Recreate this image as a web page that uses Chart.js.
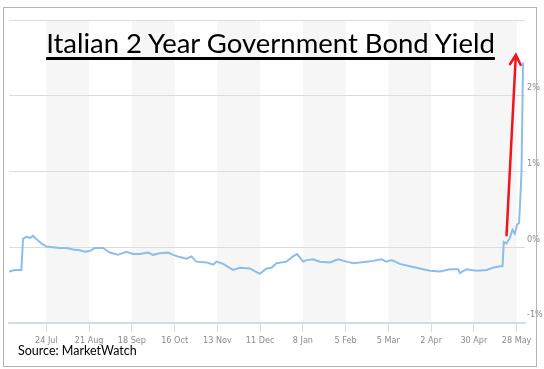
<!DOCTYPE html>
<html>
<head>
<meta charset="utf-8">
<script src="https://cdn.jsdelivr.net/npm/chart.js@4/dist/chart.umd.min.js"></script>
<style>
  html, body { margin: 0; padding: 0; background: #fff; }
  #wrap { position: relative; width: 544px; height: 369px; }
  #frame { position: absolute; left: 3px; top: 7px; width: 532px; height: 358px; border: 1.5px solid #b4b4b4; pointer-events: none; }
  #title { position: absolute; left: 0; width: 541px; top: 26px; text-align: center; font-family: Lato, sans-serif; font-size: 27.5px; color: #000; text-decoration: underline; text-decoration-thickness: 3px; text-underline-offset: 4px; white-space: nowrap; }
  #source { position: absolute; left: 18px; top: 343px; font-family: Lato, sans-serif; font-size: 12.5px; color: #000; }
</style>
</head>
<body>
<div id="wrap">
  <canvas id="bondChart" width="544" height="369"></canvas>
  <div id="title">Italian 2 Year Government Bond Yield</div>
  <div id="source">Source: MarketWatch</div>
  <div id="frame"></div>
</div>
<script>
// days counted from 28 Jun 2017
var days = [1.5, 5.2, 9.6, 10.7, 13.1, 15.1, 17.2, 19.4, 22.7, 26, 30.1, 34.7, 39.1, 43.4, 47.8, 51.1, 54.4, 57.7,
    63.1, 65.3, 67.5, 72.9, 78.4, 82.7, 87.1, 92.6, 95.9, 100.2, 105.7, 109, 113.4, 117.7, 121, 124.3, 130.8,
    135.2, 137.4, 141.7, 148.3, 152.7, 159.2, 165.8, 170.2, 173.4, 176.7, 183.3, 187.6, 190.2, 194.2, 196.4,
    200.7, 205.1, 211.7, 217.1, 222.6, 226.9, 235.7, 240, 245.5, 248.8, 252.1, 257.5, 264.1, 270.6, 277.2,
    283.7, 290.3, 295.7, 296.8, 301.2, 307.7, 314.3, 318.6, 323, 324.8, 325.6, 327.4, 329.5, 331.3, 332.8,
    334.3, 335.6, 336.5, 337.2, 337.7, 338.2];
var yields = [-0.32, -0.30, -0.30, 0.11, 0.14, 0.12, 0.15, 0.11, 0.05, 0.01, 0.00, -0.01, -0.01, -0.03, -0.04, -0.06, -0.05, -0.01,
    -0.01, -0.04, -0.07, -0.10, -0.06, -0.09, -0.09, -0.07, -0.10, -0.08, -0.07, -0.10, -0.13, -0.15, -0.12, -0.19, -0.20,
    -0.23, -0.19, -0.22, -0.30, -0.27, -0.28, -0.35, -0.28, -0.27, -0.21, -0.19, -0.12, -0.09, -0.19, -0.17,
    -0.16, -0.19, -0.20, -0.16, -0.19, -0.21, -0.19, -0.18, -0.16, -0.19, -0.17, -0.22, -0.25, -0.28, -0.31,
    -0.32, -0.29, -0.29, -0.34, -0.29, -0.31, -0.30, -0.27, -0.25, -0.25, 0.07, 0.05, 0.12, 0.23, 0.18,
    0.30, 0.32, 0.67, 1.00, 1.70, 2.44];

var tickDays = [26, 54, 82, 110, 138, 166, 194, 222, 250, 278, 306, 334];
var tickLabels = ['24 Jul', '21 Aug', '18 Sep', '16 Oct', '13 Nov', '11 Dec', '8 Jan', '5 Feb', '5 Mar', '2 Apr', '30 Apr', '28 May'];

// red arrow annotation: [day, yield] start and tip
var arrowFrom = [327.4, 0.16];
var arrowTo = [333.5, 2.54];

var bands = {
    id: 'bands',
    beforeDraw: function (chart) {
        var ctx = chart.ctx, x = chart.scales.x, a = chart.chartArea;
        ctx.save();
        ctx.fillStyle = '#f6f6f6';
        for (var i = 0; i + 1 < tickDays.length; i += 2) {
            var x0 = x.getPixelForValue(tickDays[i]);
            var x1 = x.getPixelForValue(tickDays[i + 1]);
            ctx.fillRect(x0, a.top, x1 - x0, a.bottom - a.top);
        }
        ctx.restore();
    }
};

var arrow = {
    id: 'arrow',
    afterDatasetsDraw: function (chart) {
        var ctx = chart.ctx, x = chart.scales.x, y = chart.scales.y;
        var x0 = x.getPixelForValue(arrowFrom[0]), y0 = y.getPixelForValue(arrowFrom[1]);
        var x1 = x.getPixelForValue(arrowTo[0]), y1 = y.getPixelForValue(arrowTo[1]);
        var ang = Math.atan2(y1 - y0, x1 - x0);
        ctx.save();
        ctx.strokeStyle = '#f0141e';
        ctx.lineWidth = 2.5;
        ctx.lineCap = 'round';
        ctx.beginPath();
        ctx.moveTo(x0, y0);
        ctx.lineTo(x1, y1);
        ctx.moveTo(x1 - 11 * Math.cos(ang - 0.5), y1 - 11 * Math.sin(ang - 0.5));
        ctx.lineTo(x1, y1);
        ctx.lineTo(x1 - 11 * Math.cos(ang + 0.5), y1 - 11 * Math.sin(ang + 0.5));
        ctx.stroke();
        ctx.restore();
    }
};

var points = days.map(function (d, i) { return { x: d, y: yields[i] }; });

var chart = new Chart(document.getElementById('bondChart'), {
    type: 'line',
    data: {
        datasets: [{
            data: points,
            borderColor: '#8dbdec',
            borderWidth: 2,
            pointRadius: 0,
            tension: 0
        }]
    },
    options: {
        responsive: false,
        animation: false,
        layout: { padding: { left: 9, top: 20, right: 0, bottom: 0 } },
        plugins: { legend: { display: false }, tooltip: { enabled: false } },
        scales: {
            x: {
                type: 'linear',
                min: 1.5,
                max: 339.5,
                afterBuildTicks: function (scale) {
                    scale.ticks = tickDays.map(function (v) { return { value: v }; });
                },
                afterFit: function (scale) { scale.height = 46; },
                grid: { drawOnChartArea: false, drawTicks: true, tickLength: 9, color: '#d3dee9' },
                border: { color: '#cfdbe7', width: 1.5 },
                ticks: {
                    autoSkip: false,
                    maxRotation: 0,
                    padding: 3,
                    color: '#8a8a8a',
                    font: { family: "'Liberation Sans Narrow', 'DejaVu Sans Condensed', sans-serif", size: 9 },
                    callback: function (v) {
                        var i = tickDays.indexOf(v);
                        return i >= 0 ? tickLabels[i] : '';
                    }
                }
            },
            y: {
                position: 'right',
                min: -1,
                max: 3,
                afterFit: function (scale) { scale.width = 19; },
                grid: { color: '#dcdcdc', drawTicks: false, lineWidth: 1 },
                border: { display: false },
                ticks: {
                    stepSize: 1,
                    padding: 2,
                    labelOffset: -8,
                    color: '#8a8a8a',
                    font: { family: "'Liberation Sans Narrow', 'DejaVu Sans Condensed', sans-serif", size: 9 },
                    callback: function (v) { return v < 3 ? v + '%' : ''; }
                }
            }
        }
    },
    plugins: [bands, arrow]
});
</script>
</body>
</html>
